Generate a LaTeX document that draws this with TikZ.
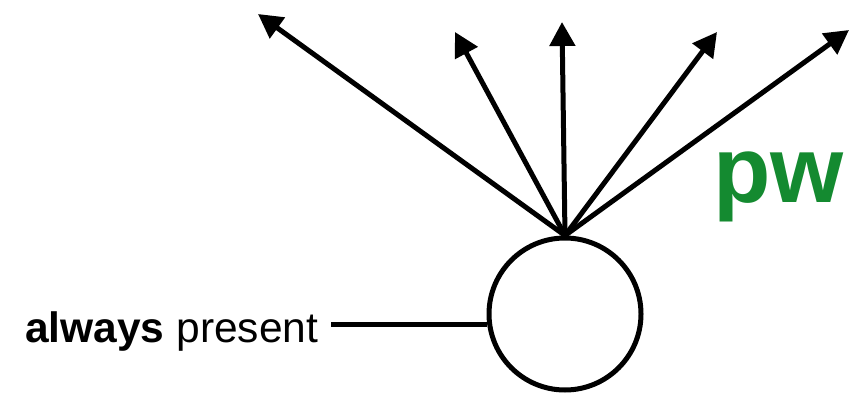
\documentclass[tikz,border=0pt]{standalone}
\usepackage{fontspec}
\setmainfont{Liberation Sans}
\usetikzlibrary{arrows.meta}
\definecolor{pwgreen}{RGB}{20,138,48}
\tikzset{
  line/.style={line width=5pt, black},
  arr/.style={line, -{Triangle[length=24pt,width=25pt]}},
}
\begin{document}
\begin{tikzpicture}[x=1pt,y=1pt]
\useasboundingbox (0,0) rectangle (851,392);
\node[line, circle, minimum size=152pt, inner sep=0pt, draw, fill=white] (c) at (565,78) {};
\coordinate (t1) at (258,378);
\coordinate (t2) at (455,360);
\coordinate (t3) at (562,370);
\coordinate (t4) at (717,360);
\coordinate (t5) at (849,362);
\foreach \t in {t1,t2,t3,t4,t5} \draw[arr] (c.north) -- (\t);
\node[anchor=base west, inner sep=0pt, font=\fontsize{42.5}{50}\selectfont] (ap) at (25,50) {\textbf{always} present};
\draw[line] ([xshift=13pt]ap.east |- c.188) -- (c.188);
\node[anchor=base west, inner sep=0pt, text=pwgreen, font=\fontsize{94}{110}\selectfont\bfseries] (pw) at (713,190) {pw};
\end{tikzpicture}
\end{document}
